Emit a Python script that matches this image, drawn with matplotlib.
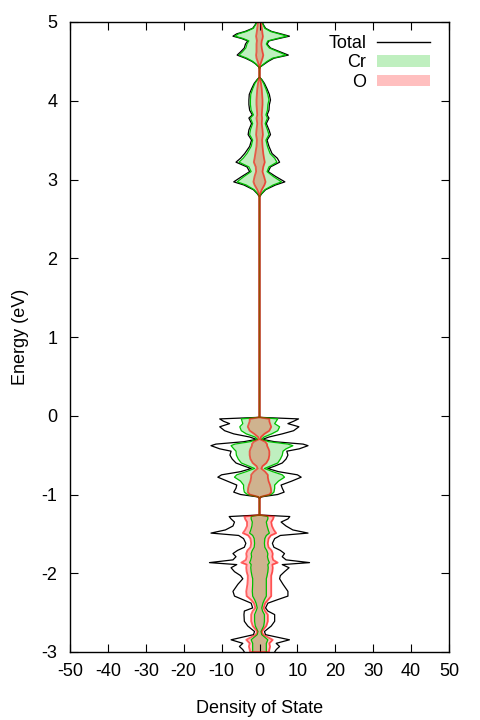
import numpy as np
import matplotlib
matplotlib.use("Agg")
import matplotlib.pyplot as plt
from matplotlib.lines import Line2D
from matplotlib.patches import Patch

plt.rcParams["font.family"] = ["Liberation Sans", "DejaVu Sans"]
plt.rcParams["font.size"] = 13
plt.rcParams["axes.unicode_minus"] = False

# Energy grid (eV) and DOS (up = right side, dn = left side)
energy = np.array([
    5.00, 4.96, 4.92, 4.88, 4.85, 4.82, 4.79, 4.76, 4.72, 4.67, 4.62, 4.58, 4.54, 4.50, 4.47, 4.43, 4.40,
    4.30, 4.27, 4.22, 4.15, 4.08, 4.01, 3.95, 3.88, 3.82, 3.78, 3.71, 3.63, 3.57, 3.50, 3.42, 3.33,
    3.27, 3.22, 3.16, 3.10, 3.04, 2.97, 2.93, 2.87, 2.82, 2.78,
    -0.02,
    -0.04, -0.07, -0.10, -0.14, -0.19, -0.23, -0.27, -0.30, -0.33, -0.36, -0.38, -0.42, -0.45, -0.50,
    -0.55, -0.60, -0.64, -0.67, -0.71, -0.75, -0.78, -0.83, -0.88, -0.92, -0.97, -1.00, -1.03, -1.05,
    -1.26,
    -1.28, -1.31, -1.35, -1.40, -1.45, -1.49, -1.52, -1.56, -1.62, -1.67, -1.71, -1.75, -1.79, -1.83,
    -1.865, -1.89, -1.93, -1.98, -2.03, -2.07, -2.14, -2.23, -2.29, -2.335, -2.38, -2.44, -2.48, -2.525,
    -2.61, -2.67, -2.74, -2.78, -2.845, -2.89, -2.93, -2.97, -3.00,
])

total_up = np.array([
    0.7, 1.1, 1.6, 3.2, 5.6, 7.9, 5.1, 2.5, 2.0, 2.9, 5.5, 7.6, 3.8, 2.3, 1.4, 0.2, 0.0,
    0.0, 0.6, 1.3, 2.0, 2.6, 2.9, 2.6, 2.5, 2.0, 2.5, 1.8, 2.5, 2.9, 2.0, 2.5, 3.3,
    4.7, 5.3, 2.9, 2.3, 4.2, 6.7, 4.2, 1.6, 0.6, 0.0,
    0.0,
    10.3, 9.0, 7.5, 10.4, 9.0, 6.0, 2.5, 0.8, 4.0, 11.5, 12.8, 10.5, 7.2, 7.5,
    7.0, 6.0, 4.0, 2.2, 5.0, 10.0, 11.0, 8.5, 5.7, 6.0, 6.5, 4.8, 0.5, 0.0,
    0.0,
    8.0, 7.5, 5.7, 7.0, 8.8, 12.8, 5.5, 4.0, 3.4, 3.8, 5.5, 6.6, 6.0, 7.0,
    13.2, 6.0, 7.8, 6.6, 5.5, 5.3, 6.2, 7.5, 7.5, 4.8, 2.2, 1.6, 2.2, 4.0,
    4.0, 3.1, 1.3, 1.6, 7.9, 4.4, 5.3, 4.4, 4.0,
])
total_dn = np.array([
    0.7, 1.2, 1.8, 3.8, 6.0, 7.0, 4.7, 3.1, 3.7, 4.0, 5.0, 5.9, 3.7, 2.0, 1.1, 0.2, 0.0,
    0.0, 0.6, 1.4, 2.1, 2.7, 2.8, 2.8, 2.6, 1.9, 2.8, 2.1, 2.8, 3.0, 2.1, 2.6, 3.9,
    5.0, 6.2, 3.3, 2.6, 4.6, 6.8, 4.1, 1.6, 0.6, 0.0,
    0.0,
    10.5, 9.5, 7.9, 10.5, 9.2, 6.8, 2.6, 0.8, 4.2, 11.5, 12.8, 10.5, 7.5, 7.8,
    7.2, 6.2, 4.0, 2.2, 5.0, 10.0, 11.0, 8.5, 6.0, 6.2, 6.8, 5.0, 0.5, 0.0,
    0.0,
    8.0, 7.5, 6.6, 7.0, 9.0, 12.8, 5.5, 4.2, 3.6, 4.0, 5.8, 7.0, 6.2, 7.0,
    13.2, 6.0, 7.5, 6.6, 5.0, 4.4, 5.7, 7.0, 6.6, 4.4, 2.2, 1.8, 4.0, 4.1,
    4.0, 3.1, 1.3, 1.6, 7.5, 4.4, 5.3, 4.4, 4.0,
])

cr_up = np.array([
    0.6, 1.0, 1.4, 2.9, 5.1, 7.3, 4.6, 2.2, 1.8, 2.6, 5.0, 7.0, 3.4, 2.0, 1.2, 0.2, 0.0,
    0.0, 0.5, 1.1, 1.7, 2.2, 2.5, 2.2, 2.1, 1.7, 2.1, 1.5, 2.1, 2.5, 1.7, 2.1, 2.8,
    4.0, 4.6, 2.5, 2.0, 3.6, 5.8, 3.6, 1.4, 0.5, 0.0,
    0.0,
    4.8, 4.4, 4.0, 5.3, 4.8, 3.2, 1.2, 0.5, 2.5, 7.5, 8.8, 7.0, 6.2, 6.0,
    5.5, 4.8, 2.8, 1.3, 3.5, 6.0, 6.6, 5.0, 4.0, 4.0, 3.8, 3.1, 0.3, 0.0,
    0.0,
    2.2, 2.2, 1.8, 2.0, 2.3, 2.6, 1.8, 1.4, 1.3, 1.4, 1.9, 2.2, 2.1, 2.3,
    2.6, 2.2, 2.3, 2.2, 2.0, 1.8, 1.8, 1.8, 1.8, 1.3, 0.9, 0.6, 0.8, 1.3,
    1.3, 1.1, 0.4, 0.6, 2.2, 1.8, 1.8, 1.8, 1.8,
])
cr_dn = np.array([
    0.6, 1.1, 1.6, 3.4, 5.5, 6.5, 4.3, 2.8, 3.3, 3.6, 4.5, 5.4, 3.3, 1.8, 1.0, 0.2, 0.0,
    0.0, 0.5, 1.2, 1.8, 2.3, 2.4, 2.4, 2.2, 1.6, 2.4, 1.8, 2.4, 2.6, 1.8, 2.2, 3.3,
    4.3, 5.4, 2.8, 2.2, 4.0, 5.9, 3.5, 1.4, 0.5, 0.0,
    0.0,
    4.8, 4.6, 4.4, 5.2, 4.8, 3.5, 1.2, 0.5, 2.5, 6.5, 7.5, 6.8, 6.2, 6.1,
    5.6, 4.8, 2.8, 1.3, 3.5, 6.0, 6.6, 5.0, 4.2, 4.2, 4.0, 3.2, 0.3, 0.0,
    0.0,
    2.2, 2.2, 1.9, 2.0, 2.3, 2.6, 1.8, 1.4, 1.3, 1.4, 1.9, 2.2, 2.1, 2.3,
    2.6, 2.2, 2.3, 2.2, 2.0, 1.8, 1.8, 1.9, 1.8, 1.3, 0.9, 0.6, 0.9, 1.3,
    1.3, 1.1, 0.4, 0.6, 2.2, 1.8, 1.8, 1.8, 1.8,
])

o_up = np.array([
    0.4, 0.5, 0.6, 0.7, 0.8, 0.9, 0.8, 0.6, 0.5, 0.6, 0.8, 1.0, 0.8, 0.5, 0.3, 0.05, 0.0,
    0.0, 0.2, 0.4, 0.6, 0.7, 0.8, 0.8, 0.7, 0.6, 0.7, 0.6, 0.8, 0.9, 0.7, 0.8, 1.0,
    1.2, 1.4, 1.0, 0.8, 1.2, 1.6, 1.3, 0.6, 0.2, 0.0,
    0.0,
    2.6, 2.6, 2.8, 3.1, 2.6, 1.3, 0.4, 0.2, 1.5, 2.0, 2.0, 2.4, 2.6, 2.6,
    2.4, 1.8, 0.8, 0.5, 1.5, 2.2, 2.2, 2.4, 2.8, 3.0, 3.1, 2.6, 0.3, 0.0,
    0.0,
    3.8, 3.6, 3.1, 3.3, 3.8, 4.4, 3.0, 2.4, 2.2, 2.4, 3.2, 3.5, 3.4, 3.6,
    4.8, 3.4, 3.5, 3.4, 3.1, 3.1, 3.1, 3.1, 3.1, 2.3, 1.5, 1.1, 1.5, 2.2,
    2.2, 1.8, 0.6, 1.0, 3.5, 2.6, 2.8, 2.6, 2.5,
])
o_dn = np.array([
    0.4, 0.5, 0.6, 0.7, 0.8, 0.9, 0.8, 0.7, 0.8, 0.8, 0.8, 0.9, 0.8, 0.5, 0.3, 0.05, 0.0,
    0.0, 0.2, 0.4, 0.6, 0.7, 0.8, 0.8, 0.7, 0.6, 0.8, 0.6, 0.8, 0.9, 0.7, 0.8, 1.1,
    1.3, 1.5, 1.0, 0.9, 1.3, 1.6, 1.3, 0.6, 0.2, 0.0,
    0.0,
    2.6, 2.6, 2.8, 3.1, 2.6, 1.4, 0.4, 0.2, 1.5, 2.0, 2.0, 2.4, 2.6, 2.6,
    2.4, 1.8, 0.8, 0.5, 1.5, 2.2, 2.2, 2.4, 2.8, 3.0, 3.1, 2.6, 0.3, 0.0,
    0.0,
    4.0, 3.8, 3.3, 3.3, 3.8, 4.4, 3.0, 2.4, 2.2, 2.4, 3.2, 3.5, 3.4, 3.6,
    4.8, 3.4, 3.5, 3.4, 3.1, 3.1, 3.2, 3.5, 3.4, 2.3, 1.5, 1.1, 1.8, 2.2,
    2.2, 1.8, 0.6, 1.0, 3.5, 2.6, 2.8, 2.6, 2.5,
])

C_CR = "#00c000"
C_O = "#ff0000"

fig = plt.figure(figsize=(4.8, 7.2), dpi=100)
ax = fig.add_axes([70 / 480, 1 - 652 / 720, 379 / 480, 630 / 720])

# filled partial DOS, both spins
ax.fill_betweenx(energy, 0, cr_up, color=C_CR, alpha=0.25, lw=0)
ax.fill_betweenx(energy, -cr_dn, 0, color=C_CR, alpha=0.25, lw=0)
ax.fill_betweenx(energy, 0, o_up, color=C_O, alpha=0.25, lw=0)
ax.fill_betweenx(energy, -o_dn, 0, color=C_O, alpha=0.25, lw=0)

ax.plot(total_up, energy, color="black", lw=0.9)
ax.plot(-total_dn, energy, color="black", lw=0.9)
ax.plot(cr_up, energy, color=C_CR, lw=0.9)
ax.plot(-cr_dn, energy, color=C_CR, lw=0.9)
# O outline as one path (up side, then down side back) so the overlap at 0
# is blended only once -> brownish centre line like the original
ax.plot(np.concatenate([o_up, -o_dn[::-1]]),
        np.concatenate([energy, energy[::-1]]),
        color=C_O, lw=1.3, alpha=0.6)

ax.set_xlim(-50, 50)
ax.set_ylim(-3, 5)
ax.set_xticks(np.arange(-50, 51, 10))
ax.set_yticks(np.arange(-3, 6, 1))
ax.tick_params(direction="in", top=True, right=True, length=5.5, width=0.8)
ax.tick_params(axis="x", pad=8)
ax.tick_params(axis="y", pad=9)
for s in ax.spines.values():
    s.set_linewidth(1.0)

ax.set_xlabel("Density of State", labelpad=14)
ax.set_ylabel("Energy (eV)", labelpad=9)

handles = [Line2D([], [], color="black", lw=1.0),
           Patch(facecolor=C_CR, alpha=0.25, lw=0),
           Patch(facecolor=C_O, alpha=0.25, lw=0)]
ax.legend(handles, ["Total", "Cr", "O"], loc="upper right", frameon=False,
          markerfirst=False, handlelength=2.9, handleheight=0.6,
          handletextpad=0.6, labelspacing=0.15, borderaxespad=0.3,
          bbox_to_anchor=(0.982, 1.0))

fig.savefig("out.png", dpi=100)
